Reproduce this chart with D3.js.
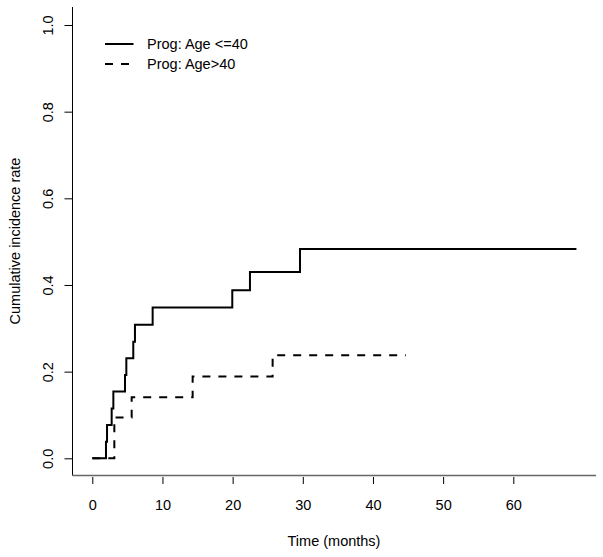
<!DOCTYPE html>
<html>
<head>
<meta charset="utf-8">
<script src="https://cdn.jsdelivr.net/npm/d3@7"></script>
<style>
  html, body { margin: 0; padding: 0; background: #fff; }
  svg { display: block; font-family: "Liberation Sans", Arial, Helvetica, sans-serif; }
</style>
</head>
<body>
<svg id="chart" width="603" height="557"></svg>
<script>
// ---- data ----
const seriesNames = ["Prog: Age <=40", "Prog: Age>40"];
const youngTimes  = [0, 1.95, 2.1, 2.76, 3.0, 4.66, 4.85, 5.84, 6.08, 8.6, 19.95, 22.47, 29.6, 69.0];
const youngValues = [0, 0.038, 0.077, 0.115, 0.154, 0.192, 0.231, 0.269, 0.308, 0.348, 0.388, 0.43, 0.483, 0.483];
const oldTimes    = [0, 3.14, 5.61, 14.3, 25.7, 44.7];
const oldValues   = [0, 0.094, 0.141, 0.189, 0.238, 0.238];
const xTicks = [0, 10, 20, 30, 40, 50, 60];
const yTicks = [0, 0.2, 0.4, 0.6, 0.8, 1.0];
const xTitle = "Time (months)";
const yTitle = "Cumulative incidence rate";

// ---- layout ----
const svg = d3.select("#chart");
const x = d3.scaleLinear().domain([0, 60]).range([92.3, 513.3]);
const y = d3.scaleLinear().domain([0, 1]).range([458.3, 25]);
const plotLeft = 72.5, plotBottom = 475.5, plotTop = 7, plotRight = 596;
const fontSize = 14.5;

// box lines (L shape)
svg.append("line").attr("x1", plotLeft).attr("x2", plotLeft).attr("y1", plotTop).attr("y2", plotBottom)
  .attr("stroke", "#000").attr("stroke-width", 1);
svg.append("line").attr("x1", plotLeft).attr("x2", plotRight).attr("y1", plotBottom).attr("y2", plotBottom)
  .attr("stroke", "#666").attr("stroke-width", 1.5);

// x axis
const gx = svg.append("g").attr("transform", "translate(0,477)")
  .call(d3.axisBottom(x).tickValues(xTicks).tickSize(7).tickPadding(16).tickSizeOuter(0).tickFormat(d3.format("d")));
gx.select(".domain").remove();
gx.selectAll("text").attr("font-size", fontSize).attr("font-family", null).attr("fill", "#000");
gx.selectAll("line").attr("stroke", "#000");

// y axis
const gy = svg.append("g").attr("transform", `translate(${plotLeft},0)`)
  .call(d3.axisLeft(y).tickValues(yTicks).tickSize(8).tickSizeOuter(0).tickFormat(d3.format(".1f")));
gy.select(".domain").remove();
gy.selectAll("line").attr("stroke", "#000");
gy.selectAll("text")
  .attr("font-size", fontSize).attr("font-family", null).attr("fill", "#000")
  .attr("text-anchor", "middle").attr("dy", null).attr("x", null)
  .attr("transform", "translate(-19.5,0) rotate(-90)");

// titles
svg.append("text").attr("x", 334).attr("y", 546).attr("text-anchor", "middle")
  .attr("font-size", fontSize).text(xTitle);
svg.append("text").attr("transform", `translate(20,241) rotate(-90)`).attr("text-anchor", "middle")
  .attr("font-size", fontSize).text(yTitle);

// curves
const line = d3.line().curve(d3.curveStepAfter).x(d => x(d[0])).y(d => y(d[1]));
const young = youngTimes.map((t, i) => [t, youngValues[i]]);
const old = oldTimes.map((t, i) => [t, oldValues[i]]);

svg.append("path").datum(old).attr("d", line).attr("fill", "none")
  .attr("stroke", "#000").attr("stroke-width", 2).attr("stroke-dasharray", "8,8");
svg.append("path").datum(young).attr("d", line).attr("fill", "none")
  .attr("stroke", "#000").attr("stroke-width", 2);

// legend
const legend = svg.append("g");
const legY = [44, 64];
const dashes = [null, "8,8"];
seriesNames.forEach((name, i) => {
  legend.append("line").attr("x1", 105).attr("x2", 133.5).attr("y1", legY[i]).attr("y2", legY[i])
    .attr("stroke", "#000").attr("stroke-width", 2).attr("stroke-dasharray", dashes[i]);
  legend.append("text").attr("x", 147).attr("y", legY[i]).attr("dy", "0.36em")
    .attr("font-size", fontSize).text(name);
});
</script>
</body>
</html>
